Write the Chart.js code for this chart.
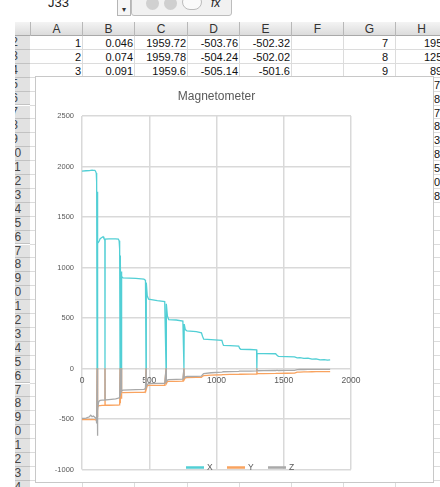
<!DOCTYPE html>
<html>
<head>
<meta charset="utf-8">
<script src="https://cdn.jsdelivr.net/npm/chart.js@4.4.1/dist/chart.umd.min.js"></script>
<style>
  html, body { margin: 0; padding: 0; }
  body { width: 440px; height: 487px; overflow: hidden; position: relative; background: #fff;
         font-family: "Liberation Sans", Arial, sans-serif; }
  .abs { position: absolute; }
  .hline { position: absolute; height: 1px; background: #dcdcdc; }
  .vline { position: absolute; width: 1px; background: #dcdcdc; }
  .cell { position: absolute; font-size: 11px; color: #111; white-space: nowrap; line-height: 14px; height: 14px; }
  .colhead { position: absolute; top: 22px; height: 14px; line-height: 14px; font-size: 12px; color: #333;
             text-align: center; border-right: 1px solid #b8b8b8; box-sizing: border-box; }
  .rowhead { position: absolute; left: 15px; width: 15px; overflow: hidden; background: #e2e2e2;
             border-bottom: 1px solid #c2c2c2; box-sizing: border-box; }
  .rowhead span { position: absolute; left: -20px; width: 39px; text-align: center; top: 0;
                  font-size: 12px; color: #444; line-height: 13px; }
  #chartBox { position: absolute; left: 35px; top: 76px; width: 399px; height: 407px; background: #fff;
              border: 1px solid #c8c8c8; box-sizing: border-box; }
  #magChart { position: absolute; left: 0; top: 0; }
</style>
</head>
<body>
<div id="sheet"></div>
<div id="chartBox"><canvas id="magChart" width="397" height="405"></canvas></div>
<script>
// sample number (column A) and the three magnetometer fields
const samples = [0, 30, 55, 65, 75, 85, 95, 100, 106, 109, 112, 114, 116, 118, 122, 128, 135, 150, 157, 163,
  170, 171, 172, 200, 250, 270, 276, 280, 283, 285, 290, 292, 297, 305, 400, 460, 472, 476, 478, 485,
  495, 560, 615, 625, 627, 635, 645, 700, 750, 758, 760, 768, 780, 850, 888, 896, 905, 960, 1040, 1046,
  1052, 1100, 1165, 1172, 1180, 1250, 1298, 1300, 1302, 1350, 1440, 1450, 1460, 1520, 1580, 1600, 1620, 1650, 1680, 1710,
  1740, 1770, 1800, 1825, 1845];
const xField = [1955, 1958, 1960, 1962, 1963, 1962, 1962, 1955, 1935, 1845, 0, 1750, 0, 1240, 1250, 1262, 1285, 1300, 1305, 1288,
  1280, 0, 1280, 1283, 1284, 1282, 1265, 1180, 0, 1120, 0, 960, 910, 897, 893, 885, 872, 0, 850, 720,
  686, 672, 662, 0, 640, 520, 484, 480, 470, 0, 440, 385, 372, 365, 353, 320, 290, 286, 278, 250,
  228, 226, 222, 200, 190, 188, 185, 0, 150, 148, 146, 130, 120, 118, 115, 105, 108, 100, 102, 92,
  95, 85, 88, 82, 85];
const yField = [-505, -505, -504, -506, -505, -506, -507, -508, -510, -500, 0, -480, 0, -385, -370, -368, -367, -366, -366, -365,
  -365, 0, -364, -364, -363, -362, -360, -358, 0, -345, 0, -300, -245, -238, -236, -235, -234, 0, -205, -172,
  -168, -167, -166, 0, -150, -130, -128, -127, -126, 0, -112, -92, -89, -88, -87, -78, -70, -66, -62, -61,
  -60, -59, -58, -57, -57, -56, -55, 0, -50, -50, -49, -48, -48, -47, -46, -36, -35, -34, -33, -32,
  -31, -31, -30, -30, -30];
const zField = [-495, -492, -478, -462, -478, -470, -482, -488, -500, -545, 0, -665, 0, -420, -340, -322, -316, -314, -314, -313,
  -312, 0, -312, -308, -300, -294, -290, -285, 0, -270, 0, -240, -222, -214, -210, -206, -200, 0, -180, -158,
  -150, -148, -146, 0, -130, -115, -110, -108, -106, 0, -92, -82, -79, -77, -75, -62, -50, -42, -35, -33,
  -32, -30, -28, -27, -26, -25, -24, 0, -22, -21, -20, -16, -20, -19, -18, -11, -10, -10, -9, -9,
  -8, -8, -8, -8, -8];
const xTicks = [0, 500, 1000, 1500, 2000];
const yTicks = [-1000, -500, 0, 500, 1000, 1500, 2000, 2500];

// spreadsheet behind the chart
const colLetters = ['A', 'B', 'C', 'D', 'E', 'F', 'G', 'H'];
const colLeft = [31, 83, 135, 188, 240, 292, 344, 396, 448];
const sheetRows = [
  ['1', '0.046', '1959.72', '-503.76', '-502.32', '', '7'],
  ['2', '0.074', '1959.78', '-504.24', '-502.02', '', '8'],
  ['3', '0.091', '1959.6', '-505.14', '-501.6', '', '9']
];
const colHEdge = ['195', '125', '89'];
const colHHidden = ['7', '8', '7', '8', '3', '8', '5', '0', '8'];

const sheet = document.getElementById('sheet');
const rowTop = n => 36 + (n - 2) * 13.9;
const add = (cls, css, text) => {
  const d = document.createElement('div');
  d.className = cls;
  d.style.cssText = css;
  if (text !== undefined) d.textContent = text;
  sheet.appendChild(d);
  return d;
};

// formula bar
add('abs', 'left:48px;top:-5px;font-size:13px;color:#222;', 'J33');
add('abs', 'left:117px;top:-2px;width:14px;height:18px;border:1px solid #b5b5b5;box-sizing:border-box;background:#f6f6f6;font-size:8px;text-align:center;line-height:22px;color:#333;', '\u25BE');
add('abs', 'left:131px;top:-4px;width:101px;height:20px;border:1px solid #bdbdbd;border-radius:0 0 3px 3px;box-sizing:border-box;background:#f1f1f1;');
add('abs', 'left:146px;top:-3px;width:13px;height:13px;border-radius:50%;background:#d0d0d0;');
add('abs', 'left:164px;top:-3px;width:13px;height:13px;border-radius:50%;background:#cfcfcf;');
add('abs', 'left:182px;top:-6px;width:20px;height:16px;border:1px solid #bbb;border-radius:8px;box-sizing:border-box;background:#fafafa;');
add('abs', 'left:211px;top:-4px;font-size:12px;font-style:italic;color:#222;', 'fx');

// column header row
add('abs', 'left:15px;top:22px;width:425px;height:14px;background:linear-gradient(#f4f4f4,#dcdcdc);border-bottom:1px solid #a9a9a9;box-sizing:border-box;');
add('abs', 'left:15px;top:22px;width:16px;height:14px;border-right:1px solid #b8b8b8;box-sizing:border-box;');
colLetters.forEach((c, i) => {
  add('colhead', `left:${colLeft[i]}px;width:${colLeft[i + 1] - colLeft[i]}px;`, c);
});

// grid lines
for (let n = 3; n <= 36; n++) add('hline', `left:30px;top:${Math.round(rowTop(n)) - 1}px;width:410px;`);
colLeft.slice(1).forEach(x => add('vline', `left:${x - 1}px;top:36px;height:451px;`));

// row headers (only the right end of the numbers is on screen)
for (let n = 2; n <= 35; n++) {
  const d = add('rowhead', `top:${rowTop(n)}px;height:13.9px;`);
  const s = document.createElement('span');
  s.textContent = String(n);
  d.appendChild(s);
}

// cell values
sheetRows.forEach((row, r) => {
  row.forEach((v, c) => {
    if (!v) return;
    const pad = c === 6 ? 8 : 2;
    add('cell', `left:${colLeft[c]}px;width:${colLeft[c + 1] - colLeft[c] - pad}px;top:${rowTop(r + 2)}px;text-align:right;`, v);
  });
  add('cell', `left:${r === 2 ? 430 : 424}px;top:${rowTop(r + 2)}px;`, colHEdge[r]);
});
colHHidden.forEach((v, i) => add('cell', `left:434px;top:${rowTop(i + 5)}px;`, v));

// chart
Chart.defaults.font.family = '"Liberation Sans", Arial, sans-serif';
const pts = vals => samples.map((s, i) => ({ x: s, y: vals[i] }));
const gridColor = '#d9d9d9';
const labelColor = '#595959';
const plain = v => String(v);

// Excel-style legend that sits on the bottom of the plot area
const sheetLegend = {
  id: 'sheetLegend',
  afterDraw(chart) {
    const c = chart.ctx;
    const y = chart.chartArea.bottom - 2;
    chart.data.datasets.forEach((ds, i) => {
      const x = 150 + i * 41;
      c.save();
      c.strokeStyle = ds.borderColor;
      c.lineWidth = 2.5;
      c.beginPath();
      c.moveTo(x, y);
      c.lineTo(x + 18, y);
      c.stroke();
      c.fillStyle = labelColor;
      c.font = '8.5px "Liberation Sans", Arial, sans-serif';
      c.textBaseline = 'middle';
      c.fillText(ds.label, x + 21, y + 0.5);
      c.restore();
    });
  }
};

const ctx = document.getElementById('magChart').getContext('2d');
new Chart(ctx, {
  type: 'scatter',
  data: {
    datasets: [
      { label: 'X', data: pts(xField), borderColor: '#52cfd5', order: 3 },
      { label: 'Y', data: pts(yField), borderColor: '#f9a35f', order: 2 },
      { label: 'Z', data: pts(zField), borderColor: '#a9a9a9', order: 1 }
    ]
  },
  options: {
    responsive: false,
    animation: false,
    showLine: true,
    elements: {
      point: { radius: 0, hoverRadius: 0 },
      line: { borderWidth: 1.3, tension: 0, fill: false }
    },
    layout: { padding: { left: 0, right: 82, top: 0, bottom: 8 } },
    plugins: {
      legend: { display: false },
      tooltip: { enabled: false },
      title: {
        display: true,
        text: 'Magnetometer',
        color: labelColor,
        fullSize: false,
        font: { size: 12, weight: 'normal' },
        padding: { top: 12, bottom: 12.6 }
      }
    },
    scales: {
      x: {
        type: 'linear',
        position: { y: 0 },
        min: 0,
        max: 2000,
        afterBuildTicks: s => { s.ticks = xTicks.map(v => ({ value: v })); },
        ticks: { color: labelColor, font: { size: 8.5 }, padding: 7, maxRotation: 0, callback: plain },
        grid: { color: gridColor, lineWidth: 1.5, drawTicks: false },
        border: { display: false }
      },
      y: {
        min: -1000,
        max: 2500,
        afterBuildTicks: s => { s.ticks = yTicks.map(v => ({ value: v })); },
        afterFit: s => { s.width = 46; },
        ticks: { color: labelColor, font: { size: 7.5 }, padding: 8, callback: plain },
        grid: { color: gridColor, lineWidth: 1.5, drawTicks: false },
        border: { display: false }
      }
    }
  },
  plugins: [sheetLegend]
});
</script>
</body>
</html>
